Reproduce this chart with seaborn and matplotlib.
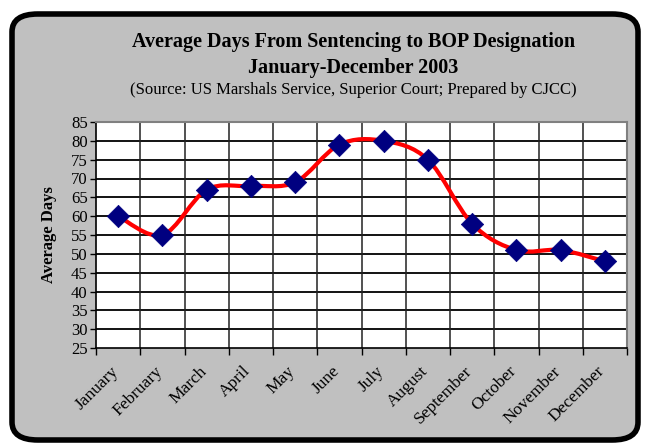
import numpy as np
import pandas as pd
import matplotlib
matplotlib.use("Agg")
import matplotlib.pyplot as plt
import matplotlib.transforms as mtransforms
import seaborn as sns
from matplotlib.path import Path
from matplotlib.patches import PathPatch, FancyBboxPatch

months = ["January", "February", "March", "April", "May", "June", "July",
          "August", "September", "October", "November", "December"]
avg_days = [60, 55, 67, 68, 69, 79, 80, 75, 58, 51, 51, 48]
y_ticks = list(range(25, 90, 5))

title = "Average Days From Sentencing to BOP Designation\nJanuary-December 2003"
subtitle = "(Source: US Marshals Service, Superior Court; Prepared by CJCC)"
y_label = "Average Days"

sns.set_theme(style="white")
plt.rcParams["font.family"] = ["Liberation Serif", "DejaVu Serif"]
plt.rcParams["text.color"] = "black"
plt.rcParams["axes.labelcolor"] = "black"
plt.rcParams["xtick.color"] = "black"
plt.rcParams["ytick.color"] = "black"

fig = plt.figure(figsize=(6.46, 4.46), dpi=100)
fig.patch.set_facecolor("white")

frame = FancyBboxPatch((12 / 646, 6 / 446), 626 / 646, 426 / 446,
                       boxstyle="round,pad=0,rounding_size=0.04",
                       transform=fig.transFigure, facecolor="#C0C0C0",
                       edgecolor="black", linewidth=4, zorder=-5)
fig.patches.append(frame)

ax = fig.add_axes([96 / 646, 1 - 348 / 446, (627 - 96) / 646, (348 - 122) / 446])
ax.set_zorder(2)
ax.set_facecolor("white")

df = pd.DataFrame({"month": months, "days": avg_days})
x = np.arange(len(months))
y = np.array(avg_days, dtype=float)

# smooth curve through the points (Catmull-Rom as cubic Bezier segments)
verts = [(x[0], y[0])]
codes = [Path.MOVETO]
n = len(x)
for i in range(n - 1):
    p0 = np.array([x[max(i - 1, 0)], y[max(i - 1, 0)]])
    p1 = np.array([x[i], y[i]])
    p2 = np.array([x[i + 1], y[i + 1]])
    p3 = np.array([x[min(i + 2, n - 1)], y[min(i + 2, n - 1)]])
    c1 = p1 + (p2 - p0) / 6.0
    c2 = p2 - (p3 - p1) / 6.0
    verts += [tuple(c1), tuple(c2), tuple(p2)]
    codes += [Path.CURVE4, Path.CURVE4, Path.CURVE4]
curve = PathPatch(Path(verts, codes), facecolor="none", edgecolor="#FF0000",
                  linewidth=3, zorder=3, capstyle="round", joinstyle="round")
ax.add_patch(curve)

sns.scatterplot(data=df, x="month", y="days", marker="D", s=130,
                color="#000080", edgecolor="#000080", linewidth=0.5,
                zorder=4, ax=ax, legend=False)

ax.set_xlim(-0.5, len(months) - 0.5)
ax.set_ylim(25, 85)
ax.set_yticks(y_ticks)
ax.set_yticklabels([str(v) for v in y_ticks], fontsize=12)

ax.set_xticks(x)
ax.set_xticklabels(months, rotation=45, ha="right", rotation_mode="anchor",
                   fontsize=12.5)
ax.tick_params(axis="x", length=0, pad=11)
offset = mtransforms.ScaledTranslation(-8 / 100, 0, fig.dpi_scale_trans)
for lab in ax.get_xticklabels():
    lab.set_transform(lab.get_transform() + offset)
ax.tick_params(axis="y", length=4, width=1, color="black", left=True, pad=2)
ax.set_xticks(np.arange(-0.5, len(months), 1.0), minor=True)
ax.tick_params(axis="x", which="minor", length=5, width=1, color="black",
               bottom=True)

for v in y_ticks[1:-1]:
    ax.axhline(v, color="black", linewidth=1.3, zorder=1)
for xv in np.arange(0.5, len(months) - 0.5, 1.0):
    ax.axvline(xv, color="#222222", linewidth=1.1, zorder=1)

for side in ["top", "right"]:
    ax.spines[side].set_color("#808080")
    ax.spines[side].set_linewidth(1.5)
for side in ["left", "bottom"]:
    ax.spines[side].set_color("black")
    ax.spines[side].set_linewidth(1.2)

ax.set_xlabel("")
ax.set_ylabel(y_label, fontsize=12, fontweight="bold", labelpad=10)

fig.text(0.547, 1 - 55 / 446, title, ha="center", va="center",
         fontsize=14.5, fontweight="bold", linespacing=1.45)
fig.text(0.547, 1 - 90 / 446, subtitle, ha="center", va="center", fontsize=12)

fig.savefig("out.png", dpi=100, facecolor=fig.get_facecolor())
